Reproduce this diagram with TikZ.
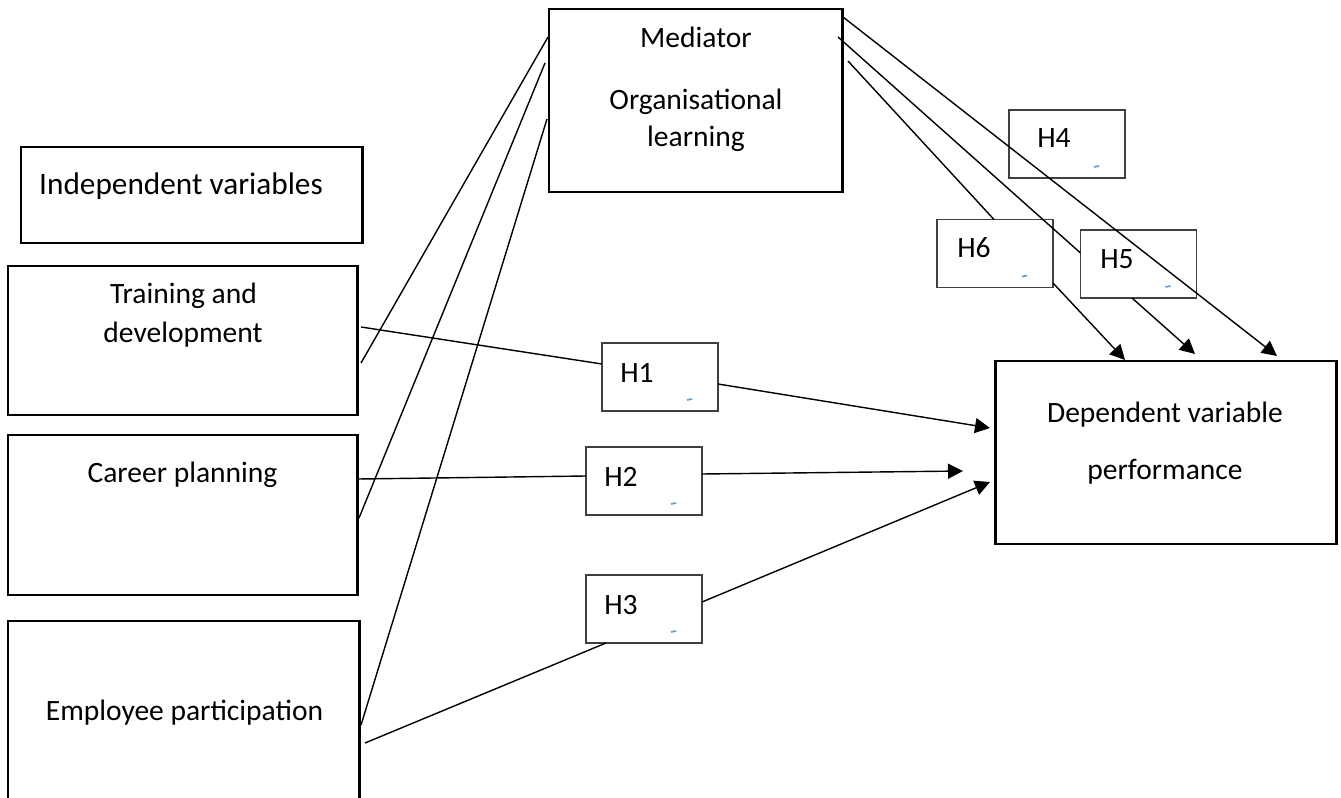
\documentclass[tikz,border=0pt]{standalone}
\usepackage{fontspec}
\setmainfont{Carlito}
\usepackage{xcolor}
\usepackage{tikz}
\usetikzlibrary{arrows.meta}
\definecolor{hgray}{HTML}{404040}
\definecolor{markblue}{HTML}{5B9BD5}

\begin{document}
\begin{tikzpicture}[
  x=0.2mm,
  y=-0.2mm,
  varbox/.style={draw=black, line width=1.7pt, inner sep=0pt, outer sep=0pt},
  hbox/.style={draw=hgray, line width=1.1pt, inner sep=0pt, outer sep=0pt,
    minimum width=23.2mm, minimum height=13.6mm},
  txt/.style={anchor=base, inner sep=0pt, font=\fontsize{16.8}{20}\selectfont},
  link/.style={line width=0.8pt},
  hyp/.style={line width=0.8pt, -{Triangle[length=3mm, width=3mm]}}
]
  \clip (0,0) rectangle (1341,798);

  % variable boxes
  \node[varbox, minimum width=68.2mm, minimum height=19.2mm] (indep) at (191.5,195) {};
  \node[varbox, minimum width=69.8mm, minimum height=29.8mm] (train) at (182.5,340.5) {};
  \node[varbox, minimum width=69.8mm, minimum height=32mm] (career) at (182.5,515) {};
  \node[varbox, minimum width=70.2mm, minimum height=38mm] (employ) at (183.5,716) {};
  \node[varbox, minimum width=58.6mm, minimum height=36.6mm] (med) at (695.5,100.5) {};
  \node[varbox, minimum width=68.2mm, minimum height=36.6mm] (dep) at (1165.5,452.5) {};

  \node[txt, font=\fontsize{17.8}{21}\selectfont] (indeplbl) at (181,195) {Independent variables};
  \node[txt] (trainlbl) at (183.5,303) {Training and};
  \node[txt] (trainlbl2) at (183,342) {development};
  \node[txt] (careerlbl) at (182.5,482) {Career planning};
  \node[txt] (employlbl) at (184.5,720) {Employee participation};
  \node[txt] (medlbl) at (696,48) {Mediator};
  \node[txt] (medlbl2) at (696,110) {Organisational};
  \node[txt] (medlbl3) at (696,147) {learning};
  \node[txt] (deplbl) at (1165,422) {Dependent variable};
  \node[txt] (deplbl2) at (1165,479) {performance};

  % hypothesis boxes
  \node[hbox] (h1) at (660,377) {};
  \node[hbox] (h2) at (644,481) {};
  \node[hbox] (h3) at (644,609) {};
  \node[hbox] (h4) at (1067,144) {};
  \node[hbox] (h5) at (1138.5,264) {};
  \node[hbox] (h6) at (995,253.5) {};

  \node[txt] (h1lbl) at (637,382) {H1};
  \node[txt] (h2lbl) at (621,486) {H2};
  \node[txt] (h3lbl) at (621,614) {H3};
  \node[txt] (h4lbl) at (1054,148) {H4};
  \node[txt] (h5lbl) at (1117,268) {H5};
  \node[txt] (h6lbl) at (974,258) {H6};

  \foreach \h in {h1,h2,h3,h4,h5,h6}
    \draw[markblue, line width=0.9pt] ([shift={(27,23)}]\h.center) -- ++(5,-1);

  % direct paths
  \draw[link] ([shift={(4,-13.5)}]train.east) -- ([shift={(0,-13)}]h1.west);
  \draw[hyp] ([shift={(0,7)}]h1.east) -- ([shift={(-5,-24.5)}]dep.west);
  \draw[link] ([shift={(1,-36)}]career.east) -- ([shift={(0,-5)}]h2.west);
  \draw[hyp] ([shift={(0,-7)}]h2.east) -- ([shift={(-32,18.5)}]dep.west);
  \draw[link] ([shift={(6,27)}]employ.east) -- ([shift={(20,0)}]h3.south west);
  \draw[hyp] ([shift={(0,-7)}]h3.east) -- ([shift={(-5,29.5)}]dep.west);

  % paths to the mediator
  \draw[link] ([shift={(4,22.5)}]train.east) -- ([shift={(-1,-63.5)}]med.west);
  \draw[link] ([shift={(2,3)}]career.east) -- ([shift={(-4,-37.5)}]med.west);
  \draw[link] ([shift={(2,9)}]employ.east) -- ([shift={(-2,18.5)}]med.west);

  % mediator to performance
  \draw[hyp] ([shift={(1,-83.5)}]med.east) -- ([shift={(111.5,-5)}]dep.north);
  \draw[link] ([shift={(-4,-63.5)}]med.east) -- ([shift={(0,-11)}]h5.west);
  \draw[hyp] ([shift={(-6.5,0)}]h5.south) -- ([shift={(29.5,-7)}]dep.north);
  \draw[link] ([shift={(6,-39.5)}]med.east) -- ([shift={(-1,0)}]h6.north);
  \draw[hyp] ([shift={(0,29.5)}]h6.east) -- ([shift={(-40.5,-1)}]dep.north);
\end{tikzpicture}
\end{document}
